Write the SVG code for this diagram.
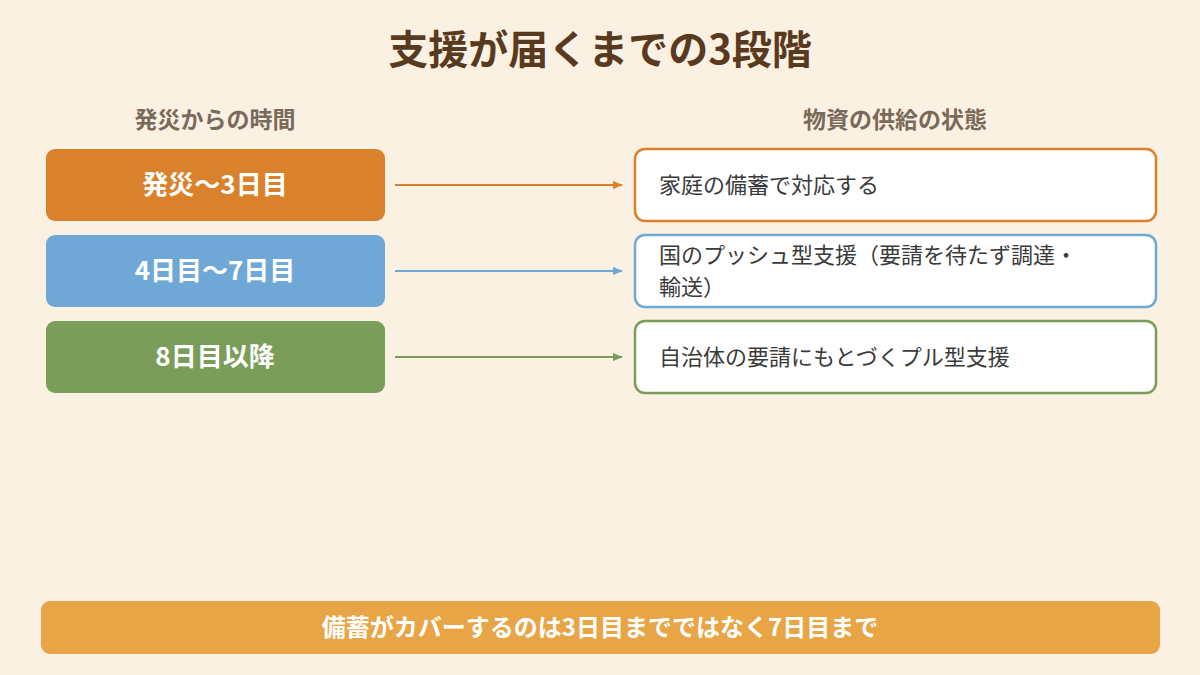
<svg xmlns="http://www.w3.org/2000/svg" width="1200" height="675" viewBox="0 0 1200 675">
<style>
text{font-family:"Noto Sans CJK JP","Noto Sans",sans-serif}
.t{font-size:40px;font-weight:bold;fill:#5a3a1e}
.h{font-size:23px;font-weight:bold;fill:#7a6a5a}
.lt{font-size:26px;font-weight:bold;fill:#fff}
.rt{font-size:22px;fill:#3a3a3a}
.rb{fill:#fff;stroke-width:2.5}
</style>
<defs>
<marker id="ao" markerWidth="10" markerHeight="8" refX="9" refY="4" orient="auto" markerUnits="userSpaceOnUse"><path d="M0,0L10,4L0,8z" fill="#d9822b"/></marker>
<marker id="ab" markerWidth="10" markerHeight="8" refX="9" refY="4" orient="auto" markerUnits="userSpaceOnUse"><path d="M0,0L10,4L0,8z" fill="#6fa8d6"/></marker>
<marker id="ag" markerWidth="10" markerHeight="8" refX="9" refY="4" orient="auto" markerUnits="userSpaceOnUse"><path d="M0,0L10,4L0,8z" fill="#7a9e5a"/></marker>
</defs>
<rect width="1200" height="675" fill="#faf1e3"/>
<text class="t" x="600" y="64" text-anchor="middle">支援が届くまでの3段階</text>
<text class="h" x="215" y="128" text-anchor="middle">発災からの時間</text>
<text class="h" x="895" y="128" text-anchor="middle">物資の供給の状態</text>
<g id="l1"><rect x="46" y="149" width="339" height="72" rx="9" fill="#d9822b"/><text class="lt" x="215" y="194" text-anchor="middle">発災～3日目</text></g>
<g id="l2"><rect x="46" y="235" width="339" height="72" rx="9" fill="#6fa8d6"/><text class="lt" x="215" y="280" text-anchor="middle">4日目～7日目</text></g>
<g id="l3"><rect x="46" y="321" width="339" height="72" rx="9" fill="#7a9e5a"/><text class="lt" x="215" y="366" text-anchor="middle">8日目以降</text></g>
<g id="r1"><rect class="rb" x="635" y="149" width="521" height="72" rx="10" stroke="#d9822b"/><text class="rt" x="659" y="193">家庭の備蓄で対応する</text></g>
<g id="r2"><rect class="rb" x="635" y="235" width="521" height="72" rx="10" stroke="#6fa8d6"/><text class="rt" x="659" y="263">国のプッシュ型支援（要請を待たず調達・</text><text class="rt" x="659" y="295">輸送）</text></g>
<g id="r3"><rect class="rb" x="635" y="321" width="521" height="72" rx="10" stroke="#7a9e5a"/><text class="rt" x="659" y="365">自治体の要請にもとづくプル型支援</text></g>
<g id="connectors" stroke-width="2">
<line x1="395" y1="185" x2="622" y2="185" stroke="#d9822b" marker-end="url(#ao)"/>
<line x1="395" y1="271" x2="622" y2="271" stroke="#6fa8d6" marker-end="url(#ab)"/>
<line x1="395" y1="357" x2="622" y2="357" stroke="#7a9e5a" marker-end="url(#ag)"/>
</g>
<g id="note"><rect x="41" y="601" width="1119" height="53" rx="9" fill="#e8a545"/><text x="600" y="636" text-anchor="middle" font-size="24" font-weight="bold" fill="#fff">備蓄がカバーするのは3日目までではなく7日目まで</text></g>
</svg>
